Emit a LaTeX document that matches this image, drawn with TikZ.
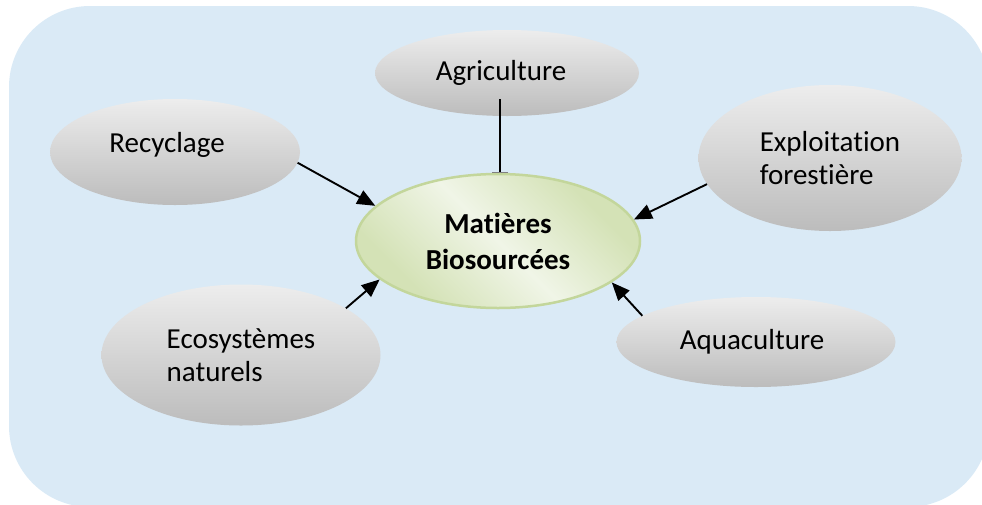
\documentclass[tikz,border=0pt]{standalone}
\usepackage{fontspec}
\setmainfont{Carlito}[Ligatures=NoCommon]
\usetikzlibrary{shapes.geometric,arrows.meta,calc}

\definecolor{panelblue}{RGB}{218,234,246}
\definecolor{greytop}{RGB}{237,237,237}
\definecolor{greybot}{RGB}{188,188,188}
\definecolor{greenlight}{RGB}{240,245,231}
\definecolor{greendark}{RGB}{212,226,182}
\definecolor{greenedge}{RGB}{195,214,155}

% dark - light - dark band used for the central bubble
\pgfdeclarehorizontalshading{leafshade}{100bp}{%
  color(0bp)=(greendark); color(28bp)=(greendark);
  color(50bp)=(greenlight);
  color(72bp)=(greendark); color(100bp)=(greendark)}

\tikzset{
  bubble/.style={ellipse, inner sep=0pt, draw=none,
    top color=greytop, bottom color=greybot,
    font=\fontsize{29}{33}\selectfont, align=left},
  core/.style={ellipse, inner sep=0pt, draw=greenedge, line width=2.5pt,
    shading=leafshade, shading angle=45,
    font=\fontsize{29}{36}\selectfont\bfseries, align=center},
  feed/.style={line width=1.9pt, -{Triangle[length=18pt,width=15pt]}},
  stem/.style={line width=1.9pt, -{Bar[width=16pt,line width=1pt,color=gray]}}
}

\begin{document}
\begin{tikzpicture}[x=1pt,y=-1pt]
  \useasboundingbox (0,0) rectangle (982,504);
  \clip (0,0) rectangle (982,504);

  % panel
  \fill[panelblue, rounded corners=81pt] (9,6) rectangle (989,507);

  % sources and the central bubble
  \node[bubble, minimum width=264pt, minimum height=86pt]  (agri) at (507,73)  {Agriculture\hspace*{12pt}};
  \node[bubble, minimum width=250pt, minimum height=106pt] (recy) at (175,152) {Recyclage\hspace*{16pt}\\[-14pt]\mbox{}};
  \node[bubble, minimum width=263pt, minimum height=146pt] (fore) at (830,158) {Exploitation\\forestière};
  \node[core,   minimum width=284pt, minimum height=134pt] (mat)  at (498,241) {Matières\\Biosourcées};
  \node[bubble, minimum width=279pt, minimum height=141pt] (eco)  at (241,355) {Ecosystèmes\\naturels};
  \node[bubble, minimum width=279pt, minimum height=90pt]  (aqua) at (756,342) {Aquaculture\hspace*{8pt}};

  % connectors
  \coordinate (agrifoot) at ($(agri.center)+(-7,26)$);
  \draw[stem] (agrifoot) -- (agrifoot |- mat.north);
  \draw[feed] (recy.-5)  -- (mat.164);
  \draw[feed] (fore.192) -- (mat.9);
  \draw[feed] (eco.24)   -- (mat.198);
  \draw[feed] (aqua.167) -- (mat.-20);
\end{tikzpicture}
\end{document}
